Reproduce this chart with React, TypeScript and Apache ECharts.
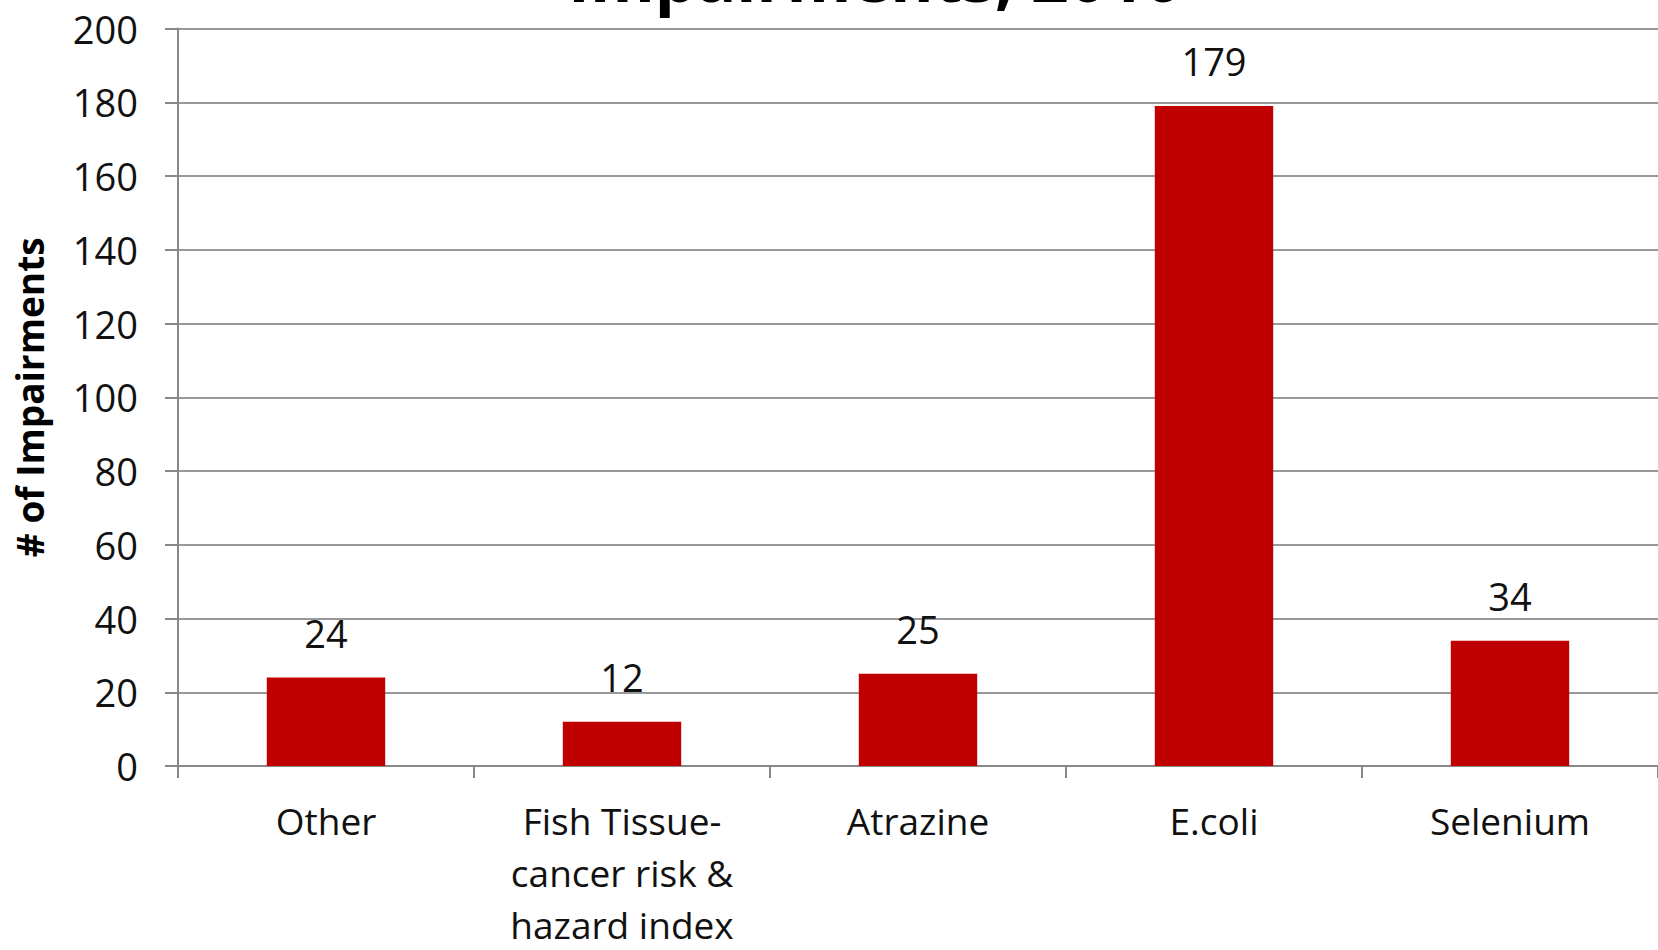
import React, { useEffect, useRef } from "react";
import * as echarts from "echarts";

const categories = ["Other", "Fish Tissue-\ncancer risk &\nhazard index", "Atrazine", "E.coli", "Selenium"];
const values = [24, 12, 25, 179, 34];
const titleText = "Impairments, 2010";
const yAxisName = "# of Impairments";

const FONT = "'Open Sans', Lato, sans-serif";

export default function App() {
  const ref = useRef<HTMLDivElement>(null);
  useEffect(() => {
    document.body.style.margin = "0";
    if (!ref.current) return;
    const chart = echarts.init(ref.current, null, { renderer: "svg" });
    chart.setOption({
      animation: false,
      backgroundColor: "#ffffff",
      textStyle: { fontFamily: FONT },
      graphic: [
        {
          type: "text",
          x: 875,
          y: -57,
          style: {
            text: titleText,
            font: `bold 66px ${FONT}`,
            fill: "#000",
            textAlign: "center",
            textVerticalAlign: "top",
          },
        },
      ],
      grid: { left: 178, top: 28.5, width: 1492, height: 738, containLabel: false },
      xAxis: {
        type: "category",
        data: categories,
        axisLine: { show: true, lineStyle: { color: "#888", width: 2 } },
        axisTick: { show: true, length: 12, lineStyle: { color: "#888", width: 2 } },
        axisLabel: {
          color: "#111",
          fontSize: 37,
          fontFamily: FONT,
          lineHeight: 52,
          margin: 28,
          interval: 0,
        },
      },
      yAxis: {
        type: "value",
        min: 0,
        max: 200,
        interval: 20,
        name: yAxisName,
        nameLocation: "middle",
        nameGap: 130,
        nameTextStyle: { fontSize: 37, fontWeight: "bold", color: "#000", fontFamily: FONT },
        axisLine: { show: true, lineStyle: { color: "#888", width: 2 } },
        axisTick: { show: true, length: 13, lineStyle: { color: "#888", width: 2 } },
        axisLabel: { color: "#111", fontSize: 38, fontFamily: FONT, margin: 40 },
        splitLine: { show: true, lineStyle: { color: "#999", width: 2 } },
      },
      series: [
        {
          type: "bar",
          data: values,
          barWidth: "40%",
          itemStyle: { color: "#C00000" },
          label: {
            show: true,
            position: "top",
            distance: 26,
            color: "#111",
            fontSize: 38,
            fontFamily: FONT,
          },
        },
      ],
    });
    return () => chart.dispose();
  }, []);
  return (
    <div
      style={{
        position: "absolute",
        left: 0,
        top: 0,
        width: 1658,
        height: 950,
        overflow: "hidden",
        background: "#fff",
      }}
    >
      <div ref={ref} style={{ width: 1658, height: 950 }} />
    </div>
  );
}
